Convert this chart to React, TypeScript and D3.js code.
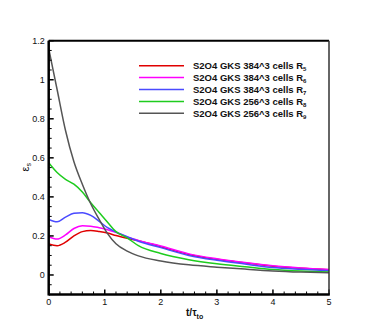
// App.tsx

import React, { useEffect, useRef } from 'react';
import * as d3 from 'd3';

const times = [0, 0.15, 0.3, 0.45, 0.6, 0.75, 0.9, 1.05, 1.2, 1.4, 1.6, 2, 2.5, 3, 3.5, 4, 4.5, 5];

const r5 = [0.159, 0.15, 0.168, 0.2, 0.222, 0.228, 0.223, 0.215, 0.202, 0.188, 0.176, 0.145, 0.105, 0.08, 0.062, 0.045, 0.034, 0.027];
const r6 = [0.196, 0.184, 0.205, 0.238, 0.252, 0.25, 0.242, 0.232, 0.218, 0.195, 0.177, 0.148, 0.108, 0.083, 0.064, 0.047, 0.036, 0.028];
const r7 = [0.285, 0.272, 0.296, 0.316, 0.319, 0.305, 0.275, 0.242, 0.22, 0.196, 0.173, 0.14, 0.1, 0.075, 0.056, 0.038, 0.029, 0.022];
const r8 = [0.575, 0.525, 0.49, 0.465, 0.425, 0.37, 0.32, 0.27, 0.222, 0.19, 0.15, 0.11, 0.078, 0.057, 0.042, 0.028, 0.02, 0.015];
const r9 = [1.16, 0.95, 0.74, 0.58, 0.465, 0.365, 0.285, 0.212, 0.16, 0.122, 0.098, 0.072, 0.052, 0.04, 0.03, 0.021, 0.015, 0.011];

const labels = ['S2O4 GKS 384^3 cells R', 'S2O4 GKS 384^3 cells R', 'S2O4 GKS 384^3 cells R', 'S2O4 GKS 256^3 cells R', 'S2O4 GKS 256^3 cells R'];
const subs = ['5', '6', '7', '8', '9'];
const colors = ['#e00000', '#ff00ff', '#4a4aff', '#1ecc1e', '#555555'];

const xTicks = [0, 1, 2, 3, 4, 5];
const yTicks = [0, 0.2, 0.4, 0.6, 0.8, 1, 1.2];

const App = () => {
  const svgRef = useRef<SVGSVGElement>(null);

  useEffect(() => {
    const W = 374;
    const H = 332;
    const margin = { top: 40.7, right: 45, bottom: 37.5, left: 48.7 };
    const width = W - margin.left - margin.right;
    const height = H - margin.top - margin.bottom;
    const font = 'Arial, "Liberation Sans", Helvetica, sans-serif';

    const root = d3.select(svgRef.current);
    root.selectAll('*').remove();
    root.attr('width', W).attr('height', H);
    root.append('rect').attr('width', W).attr('height', H).attr('fill', '#fff');

    const svg = root.append('g').attr('transform', `translate(${margin.left},${margin.top})`);

    const x = d3.scaleLinear().domain([0, 5]).range([0, width]);
    const y = d3.scaleLinear().domain([-0.1, 1.2]).range([height, 0]);

    const series = [r5, r6, r7, r8, r9];
    const line = d3
      .line<number>()
      .x((d, i) => x(times[i]))
      .y((d) => y(d))
      .curve(d3.curveMonotoneX);

    series.forEach((s, k) => {
      svg
        .append('path')
        .datum(s)
        .attr('fill', 'none')
        .attr('stroke', colors[k])
        .attr('stroke-width', 1.5)
        .attr('d', line);
    });

    // minor + major ticks, pointing inward
    const minorX = d3.range(0, 5.001, 0.2);
    svg
      .selectAll('.mx')
      .data(minorX)
      .enter()
      .append('line')
      .attr('x1', (d) => x(d))
      .attr('x2', (d) => x(d))
      .attr('y1', height)
      .attr('y2', (d) => height - (Math.abs(d - Math.round(d)) < 1e-6 ? 5 : 3))
      .attr('stroke', '#000')
      .attr('stroke-width', (d) => (Math.abs(d - Math.round(d)) < 1e-6 ? 1.5 : 1));

    const minorY = d3.range(-0.1, 1.2001, 0.05);
    svg
      .selectAll('.my')
      .data(minorY)
      .enter()
      .append('line')
      .attr('x1', 0)
      .attr('x2', (d) => (Math.abs(d * 5 - Math.round(d * 5)) < 1e-6 ? 5 : 3))
      .attr('y1', (d) => y(d))
      .attr('y2', (d) => y(d))
      .attr('stroke', '#000')
      .attr('stroke-width', (d) => (Math.abs(d * 5 - Math.round(d * 5)) < 1e-6 ? 1.5 : 1));

    // frame
    svg
      .append('line')
      .attr('x1', 0).attr('x2', width).attr('y1', 0).attr('y2', 0)
      .attr('stroke', '#000').attr('stroke-width', 2);
    svg
      .append('line')
      .attr('x1', width).attr('x2', width).attr('y1', 0).attr('y2', height)
      .attr('stroke', '#333').attr('stroke-width', 1.5);
    svg
      .append('line')
      .attr('x1', 0).attr('x2', 0).attr('y1', 0).attr('y2', height + 1)
      .attr('stroke', '#000').attr('stroke-width', 2.5);
    svg
      .append('line')
      .attr('x1', 0).attr('x2', width + 0.75).attr('y1', height).attr('y2', height)
      .attr('stroke', '#000').attr('stroke-width', 2.5);

    // tick labels
    svg
      .selectAll('.xl')
      .data(xTicks)
      .enter()
      .append('text')
      .attr('x', (d) => x(d))
      .attr('y', height + 11)
      .attr('text-anchor', 'middle')
      .attr('font-family', font)
      .attr('font-size', 9)
      .attr('fill', '#111')
      .text((d) => d3.format('~g')(d));

    svg
      .selectAll('.yl')
      .data(yTicks)
      .enter()
      .append('text')
      .attr('x', -4)
      .attr('y', (d) => y(d) + 3)
      .attr('text-anchor', 'end')
      .attr('font-family', font)
      .attr('font-size', 9)
      .attr('fill', '#111')
      .text((d) => d3.format('~g')(d));

    // axis titles
    const xt = svg
      .append('text')
      .attr('x', x(2.45))
      .attr('y', height + 22)
      .attr('font-family', font)
      .attr('font-size', 10)
      .attr('font-weight', 'bold')
      .attr('fill', '#111');
    xt.append('tspan').text('t/τ');
    xt.append('tspan').attr('font-size', 7).attr('dy', 2.5).text('to');

    const yt = svg
      .append('text')
      .attr('transform', `translate(${-20},${y(0.53)}) rotate(-90)`)
      .attr('font-family', font)
      .attr('font-size', 11)
      .attr('fill', '#111');
    yt.append('tspan').text('ε');
    yt.append('tspan').attr('font-size', 7).attr('dy', 2.5).text('s');

    // legend
    const lg = root.append('g').attr('transform', 'translate(139,65.7)');
    labels.forEach((lab, k) => {
      const row = lg.append('g').attr('transform', `translate(0,${k * 11.9})`);
      row
        .append('line')
        .attr('x1', 0).attr('x2', 45).attr('y1', 0).attr('y2', 0)
        .attr('stroke', colors[k]).attr('stroke-width', 1.5);
      const t = row
        .append('text')
        .attr('x', 54)
        .attr('y', 3.4)
        .attr('font-family', font)
        .attr('font-size', 9.5)
        .attr('font-weight', 'bold')
        .attr('fill', '#111');
      t.append('tspan').text(lab);
      t.append('tspan').attr('font-size', 6).attr('dy', 2).text(subs[k]);
    });
  }, []);

  return <svg ref={svgRef} style={{ position: 'absolute', left: 0, top: 0 }}></svg>;
};

export default App;
